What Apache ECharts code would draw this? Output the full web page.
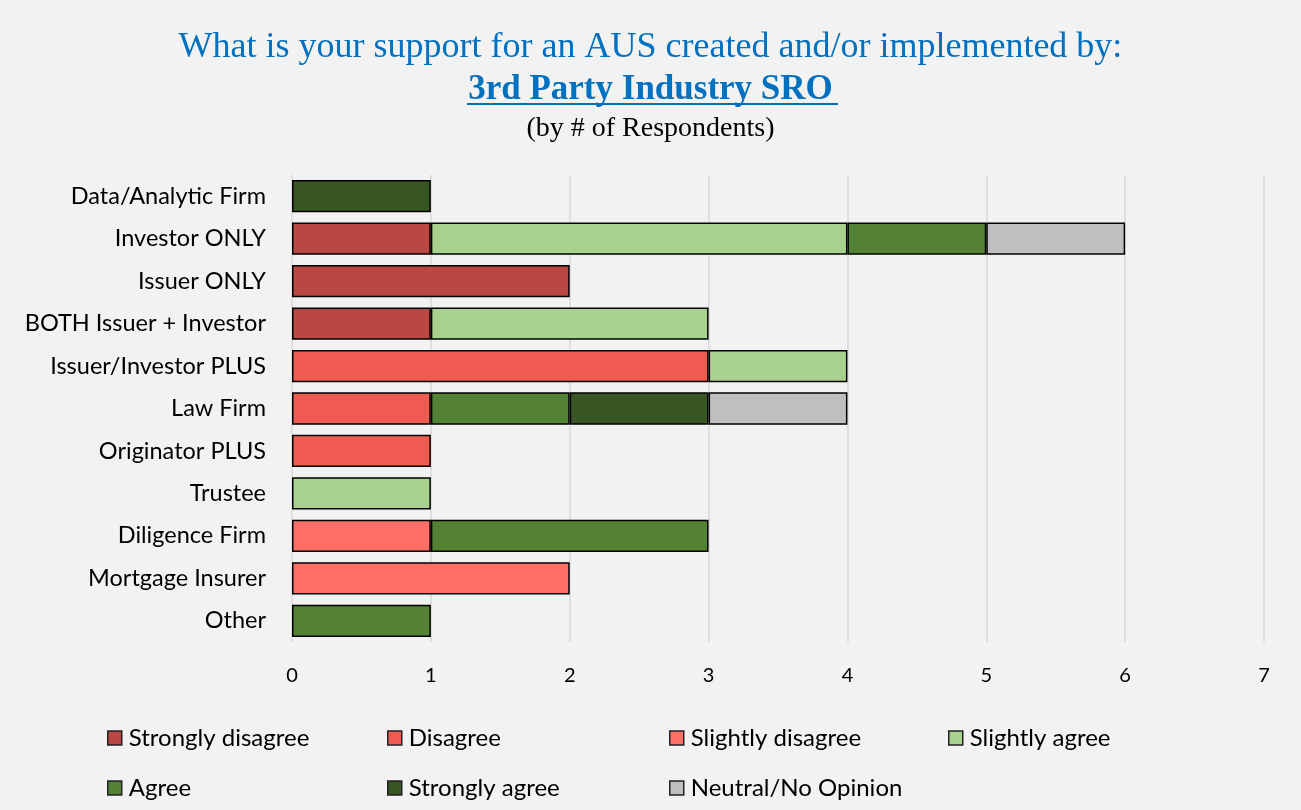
<!DOCTYPE html>
<html><head><meta charset="utf-8">
<script src="https://cdn.jsdelivr.net/npm/echarts@6/dist/echarts.min.js"></script>
<style>html,body{margin:0;padding:0;background:#F2F2F2;}#c{width:1301px;height:810px;}</style>
</head><body><div id="c"></div>
<script>
const categories = ["Data/Analytic Firm","Investor ONLY","Issuer ONLY","BOTH Issuer + Investor","Issuer/Investor PLUS","Law Firm","Originator PLUS","Trustee","Diligence Firm","Mortgage Insurer","Other"];
const seriesNames = ["Strongly disagree","Disagree","Slightly disagree","Slightly agree","Agree","Strongly agree","Neutral/No Opinion"];
const stronglyDisagree = [null,1,2,1,null,null,null,null,null,null,null];
const disagree         = [null,null,null,null,3,1,1,null,null,null,null];
const slightlyDisagree = [null,null,null,null,null,null,null,null,1,2,null];
const slightlyAgree    = [null,3,null,2,1,null,null,1,null,null,null];
const agree            = [null,1,null,null,null,1,null,null,2,null,1];
const stronglyAgree    = [1,null,null,null,null,1,null,null,null,null,null];
const neutral          = [null,1,null,null,null,1,null,null,null,null,null];

const colors = ["#B94742","#EF5B50","#FF6E67","#A9D18E","#548235","#385623","#BFBFBF"];
const allData = [stronglyDisagree,disagree,slightlyDisagree,slightlyAgree,agree,stronglyAgree,neutral];

const chart = echarts.init(document.getElementById('c'));
const series = seriesNames.map((n,i)=>({
  name:n, type:'bar', stack:'total', data:allData[i], barWidth:'76%',
  itemStyle:{color:colors[i], borderColor:'#000', borderWidth:1.5},
  emphasis:{disabled:true}
}));
const legendLefts = [107,387,669,948,107,387,669];
const legendTops  = [726,726,726,726,776,776,776];
const legends = seriesNames.map((n,i)=>({
  data:[n], left:legendLefts[i], top:legendTops[i], padding:0,
  itemWidth:14, itemHeight:14, icon:'rect',
  itemStyle:{borderColor:'#222', borderWidth:1.5},
  textStyle:{fontFamily:'Lato', fontSize:24, color:'#000', padding:[0,0,0,2]}
}));
chart.setOption({
  backgroundColor:'#F2F2F2',
  color:colors,
  title:[
    {text:'What is your support for an AUS created and/or implemented by:', left:'center', top:25,
     textStyle:{fontFamily:'Liberation Serif', fontWeight:'normal', fontSize:36, color:'#0070C0'}},
    {text:'3rd Party Industry SRO', left:'center', top:67,
     textStyle:{fontFamily:'Liberation Serif', fontWeight:'bold', fontSize:35, color:'#0070C0'}},
    {text:'(by # of Respondents)', left:'center', top:110,
     textStyle:{fontFamily:'Liberation Serif', fontWeight:'normal', fontSize:28, color:'#000'}}
  ],
  graphic:[{type:'line', shape:{x1:467,y1:104,x2:838,y2:104}, style:{stroke:'#0070C0', lineWidth:2}}],
  legend:legends,
  grid:{left:292, right:37, top:175, bottom:168, containLabel:false},
  xAxis:{type:'value', min:0, max:7, interval:1,
    axisLine:{show:false}, axisTick:{show:false},
    axisLabel:{fontFamily:'Lato', fontSize:20, color:'#000', margin:24},
    splitLine:{lineStyle:{color:'#D9D9D9', width:1.5}}},
  yAxis:{type:'category', data:categories, inverse:true,
    axisLine:{show:false}, axisTick:{show:false},
    axisLabel:{fontFamily:'Lato', fontSize:23.5, color:'#000', margin:26}},
  series:series
});
</script></body></html>
